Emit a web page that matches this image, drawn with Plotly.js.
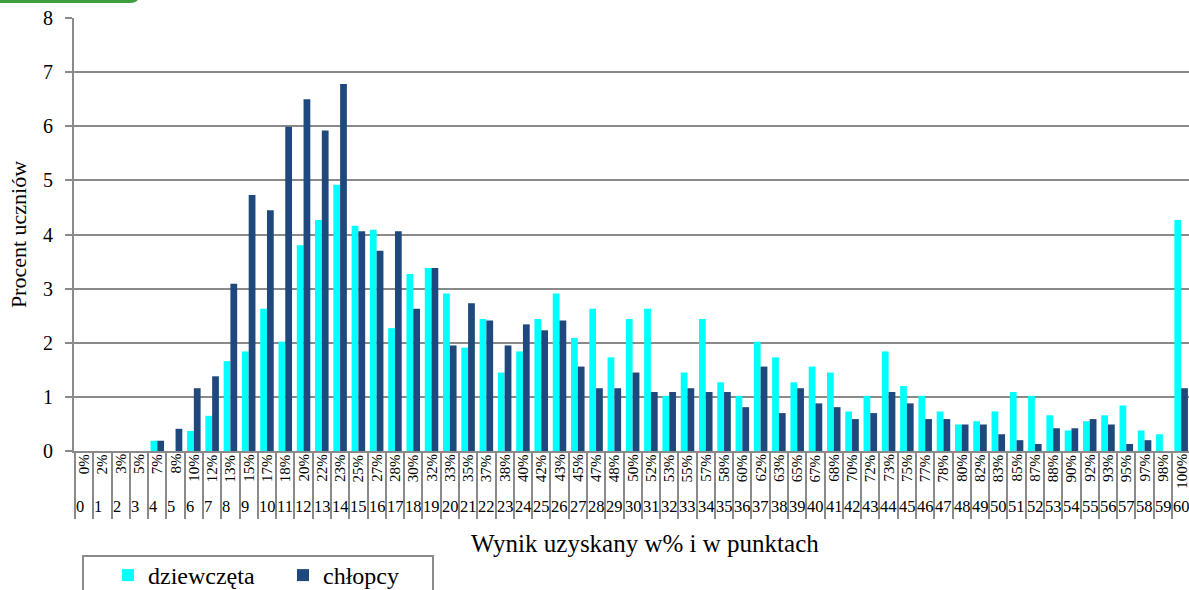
<!DOCTYPE html>
<html>
<head>
<meta charset="utf-8">
<script src="https://cdn.plot.ly/plotly-3.0.1.min.js"></script>
<style>
html,body{margin:0;padding:0;overflow:hidden;background:#fff;}
#chart{width:1192px;height:590px;}
</style>
</head>
<body>
<div id="chart"></div>
<script>
// Categories: points (0-60) and their percentage equivalents
const points = ['0','1','2','3','4','5','6','7','8','9','10','11','12','13','14','15','16','17','18','19','20','21','22','23','24','25','26','27','28','29','30','31','32','33','34','35','36','37','38','39','40','41','42','43','44','45','46','47','48','49','50','51','52','53','54','55','56','57','58','59','60'];
const percentLabels = ['0%','2%','3%','5%','7%','8%','10%','12%','13%','15%','17%','18%','20%','22%','23%','25%','27%','28%','30%','32%','33%','35%','37%','38%','40%','42%','43%','45%','47%','48%','50%','52%','53%','55%','57%','58%','60%','62%','63%','65%','67%','68%','70%','72%','73%','75%','77%','78%','80%','82%','83%','85%','87%','88%','90%','92%','93%','95%','97%','98%','100%'];

// Series (percent of students)
const girls = [0,0,0,0,0.19,0,0.37,0.65,1.66,1.84,2.63,2.02,3.80,4.27,4.92,4.16,4.09,2.27,3.27,3.38,2.91,1.91,2.44,1.45,1.84,2.44,2.91,2.09,2.63,1.73,2.44,2.63,1.02,1.45,2.44,1.27,1.02,2.02,1.73,1.27,1.56,1.45,0.73,1.02,1.84,1.20,1.02,0.73,0.49,0.55,0.73,1.09,1.02,0.66,0.38,0.55,0.66,0.84,0.38,0.31,4.27];
const boys = [0,0,0,0,0.19,0.41,1.16,1.38,3.09,4.73,4.45,5.99,6.50,5.92,6.78,4.06,3.70,4.06,2.63,3.38,1.95,2.73,2.41,1.95,2.34,2.23,2.41,1.56,1.16,1.16,1.45,1.09,1.09,1.16,1.09,1.09,0.81,1.56,0.70,1.16,0.88,0.81,0.59,0.70,1.09,0.88,0.59,0.59,0.49,0.49,0.31,0.20,0.13,0.42,0.42,0.59,0.49,0.13,0.20,0,1.16];

const seriesNames = ['dziewczęta','chłopcy'];
const yTitle = 'Procent uczniów';
const xTitle = 'Wynik uzyskany w% i w punktach';

const FONT = 'Liberation Serif, Times New Roman, serif';
const GRID = '#8a8a8a';

const traces = [
  {type:'bar', name:seriesNames[0], x:points, y:girls, marker:{color:'#00FFFF', line:{width:0}}},
  {type:'bar', name:seriesNames[1], x:points, y:boys, marker:{color:'#1F497D', line:{width:0}}}
];

const W = 1192, H = 590;
const M = {l:74, r:0, t:18, b:139};
const plotW = W - M.l - M.r, plotH = H - M.t - M.b;
const px2x = p => (p - M.l) / plotW;
const px2y = p => (H - M.b - p) / plotH;

const annotations = [];
percentLabels.forEach((t, i) => {
  annotations.push({x:i, y:0, xref:'x', yref:'y', text:t, showarrow:false,
    textangle:-90, xanchor:'center', yanchor:'top', yshift:-1,
    font:{family:FONT, size:15, color:'#000'}});
});
points.forEach((t, i) => {
  annotations.push({x:i-0.5, y:px2y(506), xref:'x', yref:'paper', text:t, showarrow:false,
    xanchor:'left', yanchor:'middle', xshift:-1,
    font:{family:FONT, size:16.5, color:'#000'}});
});
annotations.push({x:px2x(645), y:px2y(543), xref:'paper', yref:'paper', text:xTitle, showarrow:false,
  xanchor:'center', yanchor:'middle', font:{family:FONT, size:25, color:'#000'}});

const layout = {
  width:W, height:H,
  margin:{l:M.l, r:M.r, t:M.t, b:M.b, autoexpand:false},
  paper_bgcolor:'#fff', plot_bgcolor:'#fff',
  font:{family:FONT, color:'#000'},
  barmode:'group', bargap:0.26, bargroupgap:0,
  showlegend:true,
  legend:{orientation:'h', x:px2x(108), y:px2y(553), xanchor:'left', yanchor:'top',
    font:{family:FONT, size:24, color:'#000'}, borderwidth:0, bgcolor:'rgba(0,0,0,0)',
    entrywidth:130, entrywidthmode:'pixels', traceorder:'normal'},
  xaxis:{type:'category', showgrid:false, zeroline:false, showline:true, linecolor:GRID, linewidth:2,
    ticks:'outside', tickson:'boundaries', ticklen:66, tickwidth:2, tickcolor:GRID,
    showticklabels:false, fixedrange:true},
  yaxis:{range:[0,8], dtick:1, tick0:0, showgrid:true, gridcolor:GRID, gridwidth:2,
    zeroline:false, showline:true, linecolor:GRID, linewidth:2,
    ticks:'outside', ticklen:7, tickwidth:2, tickcolor:GRID, ticklabelstandoff:8,
    tickfont:{family:FONT, size:20, color:'#000'}, fixedrange:true,
    title:{text:yTitle, font:{family:FONT, size:22, color:'#000'}, standoff:10}},
  annotations:annotations,
  shapes:[
    {type:'rect', xref:'paper', yref:'paper', x0:px2x(83), x1:px2x(433), y0:px2y(556), y1:px2y(610),
      line:{color:'#8a8a8a', width:2}, fillcolor:'rgba(0,0,0,0)', layer:'above'},
    {type:'path', xref:'paper', yref:'paper',
      path:'M '+px2x(-5)+','+px2y(1.5)+' L '+px2x(130)+','+px2y(1.5)+' Q '+px2x(138)+','+px2y(1.5)+' '+px2x(138)+','+px2y(-6),
      line:{color:'#3c9e3c', width:3}, fillcolor:'rgba(0,0,0,0)'}
  ]
};

Plotly.newPlot('chart', traces, layout, {displayModeBar:false, staticPlot:true});
</script>
</body>
</html>
